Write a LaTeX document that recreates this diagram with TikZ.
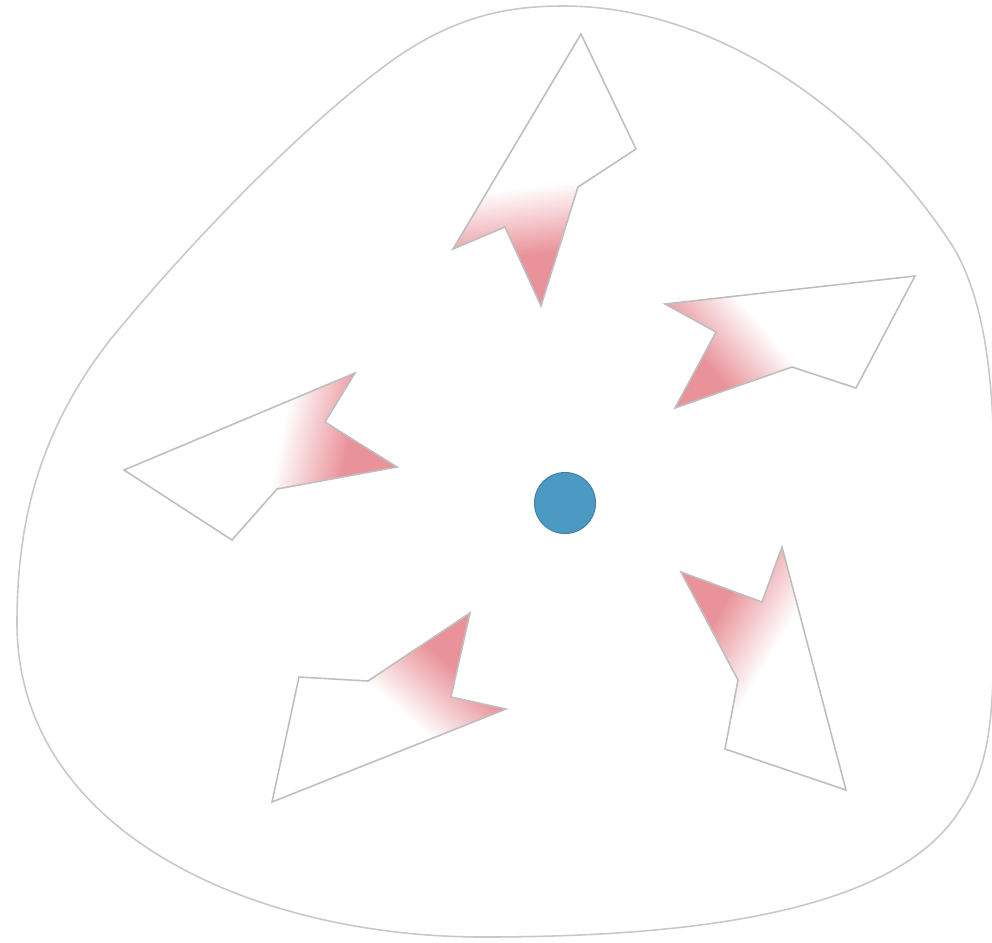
\documentclass[tikz,border=0pt]{standalone}
\usepackage{xcolor}
\usepackage{tikz}
\definecolor{spikered}{RGB}{233,146,153}
\definecolor{rimgray}{RGB}{200,200,200}
\definecolor{hubblue}{RGB}{76,154,196}
% one spike: #1 tip, #2--#6 outline, #7 direction of the fade
\newcommand{\spike}[7]{%
  \begin{scope}
    \clip #1 -- #2 -- #3 -- #4 -- #5 -- #6 -- cycle;
    \begin{scope}[transform canvas={shift={#1}, rotate=#7}]
      \fill[spikered] (-40,-160) rectangle (54,160);
      \shade[left color=spikered, right color=white] (52,-160) rectangle (120,160);
    \end{scope}
  \end{scope}
  \draw[spikeline] #1 -- #2 -- #3 -- #4 -- #5 -- #6 -- cycle;
}

\begin{document}
\begin{tikzpicture}[
  x=0.1mm, y=-0.1mm,
  rim/.style={draw=rimgray, line width=0.45pt},
  spikeline/.style={draw=rimgray!95!black, line width=0.45pt, line join=miter},
  hub/.style={circle, fill=hubblue, draw=hubblue!85!black, line width=0.3pt,
    minimum size=6.1mm, inner sep=0pt}
]
\useasboundingbox (0,0) rectangle (992,942);

\draw[rim] (563,6) .. controls (730,6) and (880,130) .. (955,250)
  .. controls (1000,330) and (995,460) .. (993,580)
  .. controls (996,720) and (990,765) .. (960,810)
  .. controls (900,905) and (720,937) .. (483,937)
  .. controls (250,937) and (17,830) .. (17,623)
  .. controls (17,520) and (40,430) .. (110,340)
  .. controls (200,230) and (320,110) .. (400,55)
  .. controls (460,15) and (510,6) .. (563,6) -- cycle;

\spike{(541,306)}{(578,187)}{(636,149)}{(581,34)}{(453,249)}{(505,227)}{96.9}
\spike{(675,408)}{(792,367)}{(856,388)}{(915,276)}{(665,304)}{(716,332)}{40.8}
\spike{(397,467)}{(325,422)}{(355,373)}{(124,470)}{(232,540)}{(277,489)}{167.9}
\spike{(470,613)}{(368,681)}{(299,677)}{(272,802)}{(506,709)}{(451,697)}{229.2}
\spike{(681,572)}{(738,680)}{(725,749)}{(846,790)}{(782,547)}{(762,602)}{-30.7}

\node[hub] (center) at (565,503) {};

\end{tikzpicture}
\end{document}
